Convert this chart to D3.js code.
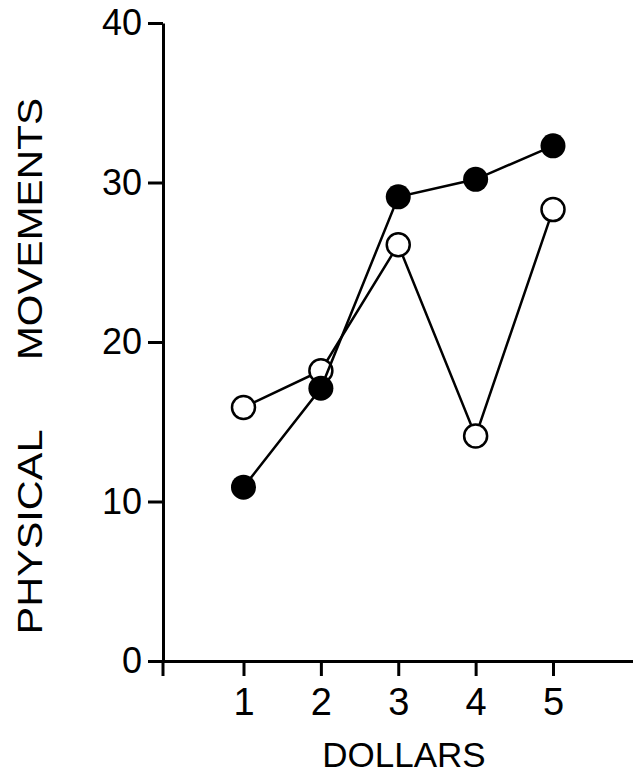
<!DOCTYPE html>
<html><head><meta charset="utf-8">
<script src="https://cdn.jsdelivr.net/npm/d3@7"></script>
<style>
html,body{margin:0;padding:0;background:#fff;}
svg{display:block;}
text{font-family:"Liberation Sans",Arial,sans-serif;fill:#000;}
</style></head>
<body>
<script>
const dollars = [1, 2, 3, 4, 5];
const filledSeries = [10.9, 17.1, 29.1, 30.2, 32.3];
const openSeries = [15.9, 18.2, 26.1, 14.1, 28.3];
const yTicks = [0, 10, 20, 30, 40];
const xLabel = "DOLLARS";
const yLabelParts = ["PHYSICAL", "MOVEMENTS"];

const W = 633, H = 775;
const svg = d3.select("body").append("svg").attr("width", W).attr("height", H);

const x0 = 163, xEnd = 633;
const x = d3.scaleLinear().domain([1, 5]).range([243.5, 553]);
const xAxisScale = x.copy().domain([x.invert(x0), x.invert(xEnd)]).range([x0, xEnd]);
const y = d3.scaleLinear().domain([0, 40]).range([661, 23]);

// Y axis
const gy = svg.append("g").attr("transform", `translate(${x0},0)`)
  .call(d3.axisLeft(y).tickValues(yTicks).tickSize(15).tickSizeOuter(0).tickPadding(6).tickFormat(d3.format("d")));
gy.select(".domain").attr("stroke", "#000").attr("stroke-width", 3);
gy.selectAll(".tick line").attr("stroke", "#000").attr("stroke-width", 3);
gy.selectAll(".tick text").attr("font-size", 36).attr("font-family", "Liberation Sans, Arial, sans-serif").attr("fill", "#000");

// X axis
const gx = svg.append("g").attr("transform", `translate(0,${y(0)})`)
  .call(d3.axisBottom(xAxisScale).tickValues(dollars).tickSize(15).tickSizeOuter(0).tickPadding(12).tickFormat(d3.format("d")));
gx.select(".domain").attr("stroke", "#000").attr("stroke-width", 3);
gx.selectAll(".tick line").attr("stroke", "#000").attr("stroke-width", 3);
gx.selectAll(".tick text").attr("font-size", 38).attr("font-family", "Liberation Sans, Arial, sans-serif").attr("fill", "#000");

// origin downward extension of y axis
svg.append("line").attr("x1", x0).attr("x2", x0).attr("y1", y(0)).attr("y2", y(0) + 15)
  .attr("stroke", "#000").attr("stroke-width", 3);

// Axis titles
svg.append("text").attr("x", 404).attr("y", 767).attr("text-anchor", "middle")
  .attr("font-size", 35).text(xLabel);

svg.append("text").attr("transform", "translate(42,532) rotate(-90)").attr("text-anchor", "middle")
  .attr("font-size", 35).attr("textLength", 205).attr("lengthAdjust", "spacingAndGlyphs").text(yLabelParts[0]);
svg.append("text").attr("transform", "translate(42,229) rotate(-90)").attr("text-anchor", "middle")
  .attr("font-size", 35).attr("textLength", 262).attr("lengthAdjust", "spacingAndGlyphs").text(yLabelParts[1]);

const line = d3.line().x((d, i) => x(dollars[i])).y(d => y(d));

// Open series
svg.append("path").datum(openSeries).attr("d", line).attr("fill", "none").attr("stroke", "#000").attr("stroke-width", 2.5);
svg.selectAll("circle.open").data(openSeries).join("circle").attr("class", "open")
  .attr("cx", (d, i) => x(dollars[i])).attr("cy", d => y(d)).attr("r", 11.5)
  .attr("fill", "#fff").attr("stroke", "#000").attr("stroke-width", 2.5);

// Filled series
svg.append("path").datum(filledSeries).attr("d", line).attr("fill", "none").attr("stroke", "#000").attr("stroke-width", 2.5);
svg.selectAll("circle.filled").data(filledSeries).join("circle").attr("class", "filled")
  .attr("cx", (d, i) => x(dollars[i])).attr("cy", d => y(d)).attr("r", 12.5)
  .attr("fill", "#000");
</script>
</body></html>
